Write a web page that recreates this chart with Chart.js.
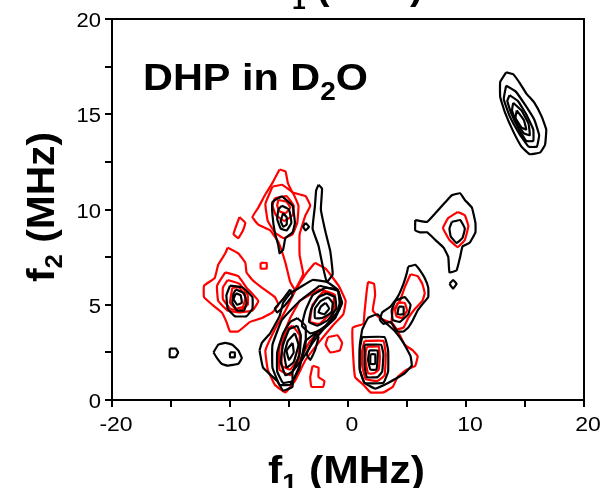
<!DOCTYPE html>
<html><head><meta charset="utf-8">
<script src="https://cdn.jsdelivr.net/npm/chart.js@4"></script>
<style>html,body{margin:0;padding:0;background:#fff}#wrap{width:601px;height:488px}</style>
</head><body><div id="wrap"><canvas id="c" width="601" height="488"></canvas></div>
<script>
// ---- tick labels ----
const xTickLabels = [-20, -10, 0, 10, 20];
const yTickLabels = [0, 5, 10, 15, 20];

// ---- contour loops, [f1 (MHz), f2 (MHz)] ----
const peakA_black = [
 [[13.4,17.2],[14.0,17.1],[14.6,16.6],[15.1,16.1],[15.8,15.6],[16.4,14.9],[16.8,14.2],[16.7,13.4],[16.3,13.0],[15.4,12.9],[14.7,13.3],[14.0,14.1],[13.3,15.1],[12.9,15.9],[12.9,16.7]],
 [[13.4,16.5],[14.2,16.2],[15.0,15.5],[15.8,14.7],[16.2,13.9],[16.0,13.3],[15.3,13.3],[14.5,14.0],[13.7,14.9],[13.2,15.8]],
 [[13.7,16.0],[14.4,15.7],[15.1,15.0],[15.7,14.2],[15.7,13.6],[15.1,13.6],[14.4,14.3],[13.8,15.1],[13.5,15.7]],
 [[14.0,15.6],[14.7,15.2],[15.3,14.5],[15.4,13.9],[14.9,14.0],[14.2,14.7],[13.9,15.2]],
 [[14.3,15.2],[14.9,14.7],[15.1,14.2],[14.7,14.3],[14.2,14.8]]
];
const peakB_black = [
 [[5.7,9.45],[6.7,9.35],[7.4,9.8],[8.2,10.35],[8.8,10.75],[9.5,10.85],[9.9,10.5],[10.5,10.1],[10.8,9.3],[10.8,8.8],[10.3,8.25],[9.7,8.05],[9.5,7.5],[9.2,6.8],[8.6,6.7],[8.5,7.5],[8.1,8.0],[7.4,8.4],[6.7,8.8],[6.1,8.8],[5.7,8.9]],
 [[8.6,6.1],[8.9,6.3],[9.2,6.1],[8.9,5.85]],
 [[8.8,9.35],[9.5,9.45],[9.9,9.0],[9.7,8.5],[9.2,8.24],[8.7,8.6],[8.6,9.0]]
];
const peakB_red = [
 [[9.3,9.87],[9.9,9.7],[10.2,9.13],[9.9,8.4],[9.3,8.03],[8.6,8.4],[8.05,9.03],[8.5,9.55]]
];
const peakC_black = [
 [[5.1,7.0],[5.7,7.1],[6.1,6.8],[6.5,6.4],[6.8,5.9],[6.8,5.4],[6.4,5.1],[5.9,4.7],[5.5,4.2],[5.1,3.8],[4.7,3.6],[4.2,3.6],[3.6,4.1],[3.0,4.0],[2.7,4.2],[2.9,4.6],[3.6,4.9],[4.2,5.4],[4.7,6.1],[5.0,6.7]],
 [[4.0,5.2],[4.8,5.4],[5.3,5.0],[5.1,4.5],[4.4,4.1],[3.8,4.2],[3.7,4.7]],
 [[4.3,4.9],[4.7,4.9],[4.7,4.5],[4.2,4.5]]
];
const peakC_red = [
 [[5.3,6.6],[5.9,6.5],[6.3,6.1],[6.5,5.6],[6.3,5.2],[5.7,4.8],[5.1,4.3],[4.7,3.8],[4.0,3.7],[3.7,4.1],[3.8,4.7],[4.4,5.2],[4.8,5.9]],
 [[4.2,5.1],[4.8,5.1],[5.0,4.7],[4.6,4.3],[4.1,4.4],[4.0,4.7]]
];
const peakD_black = [
 [[1.2,3.7],[1.7,4.3],[2.5,4.5],[3.1,4.1],[4.0,3.6],[4.7,3.0],[5.3,2.3],[5.4,1.8],[4.8,1.4],[4.0,1.1],[3.1,0.8],[2.3,0.6],[1.4,0.9],[1.0,1.6],[1.0,2.9]],
 [[1.2,3.3],[3.1,3.3],[3.4,2.6],[3.4,1.5],[3.0,0.9],[1.4,0.9],[1.0,1.6],[1.0,2.7]],
 [[1.4,2.9],[2.8,2.9],[3.0,2.4],[2.9,1.5],[2.5,1.2],[1.6,1.2],[1.4,1.8],[1.4,2.5]],
 [[1.8,2.6],[2.5,2.6],[2.5,2.1],[2.4,1.6],[1.9,1.6],[1.7,2.1]],
 [[1.9,2.4],[2.3,2.4],[2.3,1.9],[1.9,1.9]]
];
const peakD_red = [
 [[1.7,6.2],[2.2,6.1],[2.3,5.5],[2.1,4.7],[2.7,4.3],[3.8,4.0],[4.4,3.4],[4.8,2.9],[5.5,2.6],[5.9,2.3],[5.7,1.8],[5.0,1.6],[4.2,1.2],[3.8,0.7],[3.0,0.4],[1.9,0.4],[1.3,0.8],[0.6,1.2],[0.4,2.8],[0.4,3.8],[1.3,4.0],[1.4,4.6],[1.6,5.8]],
 [[1.4,3.1],[3.0,3.1],[3.2,2.4],[3.1,1.3],[2.5,1.0],[1.5,1.1],[1.2,1.8],[1.2,2.6]],
 [[1.6,2.8],[2.6,2.8],[2.7,2.2],[2.6,1.6],[2.2,1.4],[1.7,1.4],[1.5,2.0],[1.5,2.5]]
];
const peakE_black = [
 [[-5.6,10.7],[-4.7,10.2],[-4.5,9.3],[-4.7,8.8],[-5.3,8.5],[-5.5,7.9],[-5.8,7.7],[-5.9,8.1],[-6.2,8.8],[-6.4,9.7],[-6.4,10.4]],
 [[-5.6,10.2],[-5.0,10.0],[-4.8,9.3],[-5.2,8.9],[-5.7,9.0],[-6.0,9.5],[-5.9,10.0]],
 [[-5.5,9.8],[-5.2,9.6],[-5.2,9.2],[-5.5,9.1],[-5.7,9.4]],
 [[-3.6,9.3],[-3.3,9.1],[-3.6,8.9],[-3.8,9.1]]
];
const peakE_red = [
 [[-5.8,12.1],[-5.3,12.0],[-5.1,11.4],[-4.7,10.9],[-3.6,10.7],[-3.2,10.2],[-3.6,9.7],[-4.1,8.7],[-4.1,7.6],[-3.8,6.6],[-4.5,5.8],[-4.9,6.2],[-5.3,7.2],[-5.9,8.3],[-6.6,8.9],[-7.6,9.2],[-8.1,9.6],[-7.6,10.1],[-7.0,10.8],[-6.4,11.4]],
 [[-6.4,11.2],[-5.6,11.3],[-4.7,10.9],[-4.2,10.2],[-4.3,9.3],[-4.7,8.7],[-5.5,8.5],[-6.2,8.8],[-6.8,9.4],[-7.0,10.3]],
 [[-6.2,10.6],[-5.2,10.7],[-4.6,10.2],[-4.7,9.7],[-5.4,9.4],[-6.1,9.7],[-6.4,10.2]],
 [[-5.9,10.5],[-5.2,10.4],[-4.9,10.1],[-5.3,9.8],[-5.8,9.9],[-6.0,10.2]],
 [[-9.2,9.6],[-8.7,9.3],[-8.9,8.9],[-9.3,8.5],[-9.7,8.7],[-9.5,9.1]],
 [[-7.4,7.2],[-6.9,7.2],[-6.9,6.9],[-7.4,6.9]]
];
const peakF_black = [
 [[-10.0,6.0],[-8.9,5.9],[-8.1,5.4],[-8.1,4.8],[-8.6,4.4],[-9.6,4.4],[-10.2,4.8],[-10.3,5.5]],
 [[-9.5,5.8],[-8.8,5.6],[-8.6,5.1],[-8.8,4.7],[-9.4,4.7],[-9.8,5.1],[-9.7,5.6]],
 [[-9.5,5.6],[-9.1,5.5],[-9.0,5.1],[-9.4,5.0],[-9.7,5.3]]
];
const peakF_red = [
 [[-10.2,8.0],[-9.3,7.7],[-8.7,7.2],[-8.6,6.7],[-8.1,6.3],[-7.3,5.9],[-6.2,5.4],[-5.9,5.0],[-6.4,4.6],[-7.3,4.3],[-8.3,4.1],[-9.3,3.6],[-10.0,3.6],[-10.3,4.1],[-10.7,4.6],[-11.5,5.0],[-12.2,5.4],[-12.2,6.0],[-11.3,6.4],[-11.0,7.1],[-10.4,7.7]],
 [[-10.4,6.7],[-9.3,6.5],[-8.6,5.9],[-7.6,5.2],[-8.1,4.7],[-9.2,4.6],[-10.2,4.7],[-11.0,5.2],[-11.1,6.0]],
 [[-10.2,6.3],[-9.2,6.1],[-8.5,5.5],[-8.5,5.0],[-9.2,4.7],[-10.0,4.8],[-10.6,5.3],[-10.6,5.9]],
 [[-9.8,5.9],[-9.2,5.9],[-8.7,5.4],[-8.9,4.9],[-9.5,4.8],[-10.0,5.1]]
];
const peakG_black = [
 [[-11.4,2.5],[-11.0,2.9],[-10.4,3.0],[-9.8,2.9],[-9.3,2.6],[-9.0,2.2],[-9.3,1.9],[-10.2,1.8],[-10.7,1.9],[-11.1,2.2]],
 [[-10.0,2.5],[-9.6,2.5],[-9.6,2.25],[-10.0,2.25]],
 [[-15.1,2.7],[-14.6,2.7],[-14.4,2.5],[-14.6,2.25],[-15.1,2.25]]
];
const ridgeH_black = [
 [[-2.5,11.3],[-2.2,11.1],[-2.3,10.0],[-1.9,8.8],[-1.5,7.8],[-1.3,6.6],[-1.8,6.2],[-2.2,7.2],[-2.5,8.1],[-3.0,9.0],[-2.8,10.2],[-2.7,11.0]],
 [[-7.5,2.6],[-7.2,1.7],[-6.0,1.0],[-5.5,0.5],[-4.7,0.7],[-4.7,1.5],[-3.9,2.1],[-3.0,3.0],[-2.1,3.7],[-1.1,4.3],[-0.5,5.1],[-0.9,5.8],[-1.8,6.2],[-3.0,6.3],[-4.1,5.9],[-4.9,5.6],[-5.5,5.1],[-5.8,4.4],[-6.6,3.5],[-7.3,3.0]],
 [[-2.4,6.0],[-0.8,5.7],[-0.7,4.8],[-1.9,3.9],[-3.6,3.1],[-4.1,1.7],[-4.9,0.8],[-5.8,0.8],[-6.4,1.7],[-6.4,2.9],[-5.6,4.2],[-4.1,5.2]],
 [[-1.9,5.9],[-0.9,5.8],[-0.7,5.1],[-1.1,4.3],[-2.2,3.7],[-3.2,3.5],[-3.9,3.9],[-3.6,4.7],[-3.0,5.5]],
 [[-1.8,5.6],[-1.1,5.4],[-1.0,4.8],[-1.7,4.2],[-2.6,3.9],[-3.3,4.1],[-3.1,4.8],[-2.5,5.4]],
 [[-1.7,5.4],[-1.3,5.1],[-1.4,4.6],[-2.2,4.3],[-2.8,4.3],[-2.8,4.8],[-2.3,5.2]],
 [[-1.9,5.1],[-1.6,4.8],[-2.0,4.5],[-2.5,4.6],[-2.3,4.9]],
 [[-4.3,4.3],[-3.6,3.9],[-3.6,2.9],[-4.1,1.8],[-4.7,1.0],[-5.5,0.9],[-6.0,1.5],[-6.0,2.5],[-5.5,3.5],[-4.9,4.1]],
 [[-4.3,3.9],[-4.0,3.4],[-4.1,2.4],[-4.7,1.5],[-5.3,1.3],[-5.7,2.0],[-5.5,2.9],[-5.0,3.7]],
 [[-4.5,3.5],[-4.2,2.9],[-4.6,2.0],[-5.2,1.7],[-5.4,2.4],[-5.1,3.1]],
 [[-4.7,3.0],[-4.6,2.5],[-5.0,2.1],[-5.2,2.6]],
 [[-4.9,5.8],[-4.7,5.5],[-5.3,5.0],[-6.0,4.6],[-6.2,4.8],[-5.5,5.3]],
 [[-2.7,3.5],[-2.5,3.3],[-2.8,2.6],[-3.2,2.1],[-3.5,2.4],[-3.1,3.0]]
];
const ridgeH_red = [
 [[-2.8,7.2],[-1.9,6.9],[-0.8,6.0],[-0.2,5.2],[-0.4,4.5],[-1.3,3.9],[-2.5,3.0],[-3.6,2.1],[-4.5,1.0],[-5.3,0.4],[-6.2,0.8],[-6.8,1.6],[-7.0,2.6],[-6.2,3.7],[-5.3,4.7],[-4.5,5.7],[-3.6,6.6]],
 [[-2.1,5.7],[-1.2,5.5],[-1.3,4.7],[-2.4,4.0],[-3.2,4.1],[-3.0,5.0]],
 [[-4.1,5.2],[-2.4,5.8],[-1.1,5.5],[-1.4,4.2],[-3.2,3.1],[-4.1,2.1],[-4.9,1.3],[-5.8,1.6],[-5.8,2.9],[-4.9,4.3]],
 [[-4.7,3.9],[-4.1,3.4],[-4.2,2.2],[-4.9,1.6],[-5.6,1.8],[-5.6,2.9],[-5.2,3.7]],
 [[-1.7,3.3],[-0.9,3.4],[-0.5,3.0],[-0.7,2.6],[-1.5,2.5],[-1.9,2.9]],
 [[-3.0,1.8],[-2.5,1.7],[-2.5,1.2],[-2.0,1.0],[-2.1,0.7],[-3.1,0.7],[-3.2,1.2]]
];

const RED = '#ff0000', BLACK = '#000000';
const FONT = 'Arial, "Liberation Sans", sans-serif';

function loop(pts, color) {
  const d = pts.map(p => ({x: p[0], y: p[1]}));
  d.push({x: pts[0][0], y: pts[0][1]});
  return {data: d, borderColor: color, backgroundColor: color, borderWidth: 2.2,
          pointRadius: 0, showLine: true, fill: false, tension: 0.1,
          order: color === BLACK ? 0 : 1};
}
const datasets = [];
[peakA_black, peakB_black, peakC_black, peakD_black, peakE_black, peakF_black, peakG_black, ridgeH_black]
  .forEach(g => g.forEach(p => datasets.push(loop(p, BLACK))));
[peakB_red, peakC_red, peakD_red, peakE_red, peakF_red, ridgeH_red]
  .forEach(g => g.forEach(p => datasets.push(loop(p, RED))));

function drawParts(ctx, parts, targetW) {
  let w = 0;
  parts.forEach(p => { ctx.font = (p.bold ? 'bold ' : '') + p.size + 'px ' + FONT; p.w = ctx.measureText(p.t).width; w += p.w; });
  const sx = targetW ? targetW / w : 1;
  ctx.save(); ctx.scale(sx, 1);
  let cx = 0;
  parts.forEach(p => { ctx.font = (p.bold ? 'bold ' : '') + p.size + 'px ' + FONT; ctx.fillText(p.t, cx, p.dy || 0); cx += p.w; });
  ctx.restore();
}

const decor = {
  id: 'decor',
  afterDraw(chart) {
    const ctx = chart.ctx, a = chart.chartArea;
    const xs = chart.scales.x, ys = chart.scales.y;
    ctx.save();
    ctx.strokeStyle = BLACK; ctx.lineWidth = 2;
    ctx.beginPath(); ctx.moveTo(a.left, a.top); ctx.lineTo(a.right, a.top); ctx.lineTo(a.right, a.bottom); ctx.stroke();
    ctx.fillStyle = BLACK; ctx.textBaseline = 'alphabetic';
    // tick labels
    ctx.font = '20px ' + FONT;
    xTickLabels.forEach(v => {
      const s = String(v), w = ctx.measureText(s).width * 1.15;
      ctx.save(); ctx.translate(xs.getPixelForValue(v) + 4 - w / 2, 431); ctx.scale(1.15, 1); ctx.fillText(s, 0, 0); ctx.restore();
    });
    yTickLabels.forEach(v => {
      const s = String(v), w = ctx.measureText(s).width * 1.1;
      ctx.save(); ctx.translate(101 - w, ys.getPixelForValue(v) + 8); ctx.scale(1.1, 1); ctx.fillText(s, 0, 0); ctx.restore();
    });
    // x title
    ctx.save(); ctx.translate(268, 483);
    drawParts(ctx, [{t:'f', size:38, bold:true}, {t:'1', size:24, bold:true, dy:8}, {t:' (MHz)', size:38, bold:true}], 157);
    ctx.restore();
    // y title
    ctx.save(); ctx.translate(54, 282); ctx.rotate(-Math.PI / 2);
    drawParts(ctx, [{t:'f', size:38, bold:true}, {t:'2', size:24, bold:true, dy:8}, {t:' (MHz)', size:38, bold:true}], 150);
    ctx.restore();
    // top (cut) title
    ctx.save(); ctx.translate(279, -1);
    drawParts(ctx, [{t:'f', size:38, bold:true}, {t:'1', size:24, bold:true, dy:10}, {t:' (MHz)', size:38, bold:true}], 144);
    ctx.restore();
    // sample label
    ctx.save(); ctx.translate(143, 90);
    drawParts(ctx, [{t:'DHP in D', size:37, bold:true}, {t:'2', size:25, bold:true, dy:10}, {t:'O', size:37, bold:true}], 225);
    ctx.restore();
    ctx.restore();
  }
};

new Chart(document.getElementById('c'), {
  type: 'scatter',
  data: {datasets},
  options: {
    responsive: false, animation: false, devicePixelRatio: 1,
    layout: {padding: {top: 19, right: 17, left: 0, bottom: 0}},
    plugins: {legend: {display: false}, tooltip: {enabled: false}, title: {display: false}},
    scales: {
      x: {type: 'linear', min: -20, max: 20,
          ticks: {stepSize: 5, display: false},
          grid: {drawOnChartArea: false, drawTicks: true, tickLength: 7, color: BLACK, lineWidth: 2},
          border: {display: true, color: BLACK, width: 2},
          afterFit(s) { s.height = 88; }},
      y: {type: 'linear', min: 0, max: 20,
          ticks: {stepSize: 2.5, display: false},
          grid: {drawOnChartArea: false, drawTicks: true, tickLength: 7, color: BLACK, lineWidth: 2},
          border: {display: true, color: BLACK, width: 2},
          afterFit(s) { s.width = 112; }}
    }
  },
  plugins: [decor]
});
</script>
</body></html>
